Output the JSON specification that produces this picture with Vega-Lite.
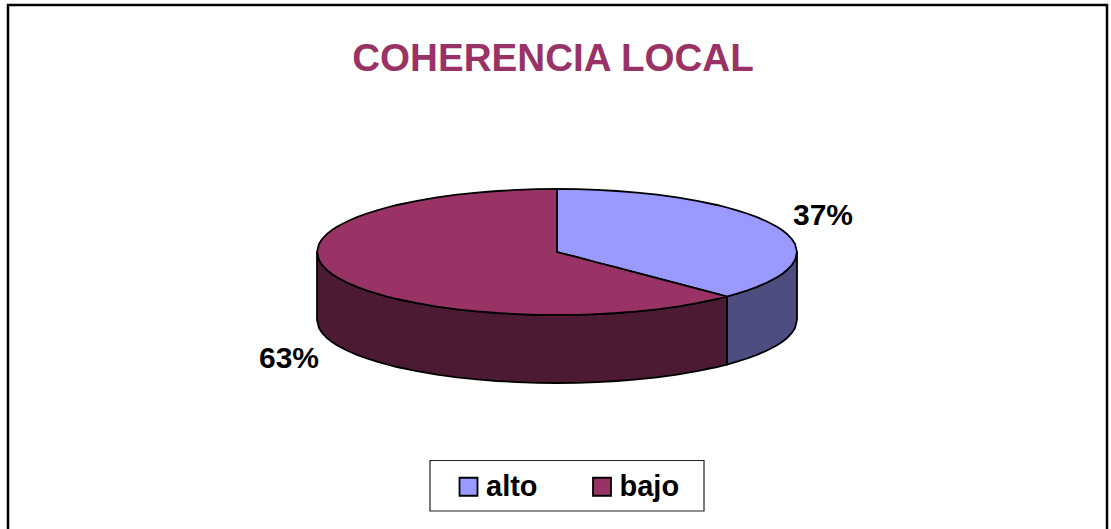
{"$schema":"https://vega.github.io/schema/vega-lite/v6.json","width":1111,"height":529,"autosize":{"type":"none"},"padding":0,"background":"white","config":{"view":{"stroke":null},"font":"Liberation Sans"},
"datasets":{
"frame":[{"o":1,"x":8,"y":529},{"o":2,"x":8,"y":5},{"o":3,"x":1107,"y":5},{"o":4,"x":1107,"y":529}],
"box":[{"x":430,"x2":704,"y":460.5,"y2":511}],
"labels":[{"t":"COHERENCIA LOCAL","x":553,"y":58.5,"k":"title"},{"t":"37%","x":823,"y":216,"k":"pct"},{"t":"63%","x":289,"y":359,"k":"pct"}],
"ladoBajo":[{"x":317,"y":252,"y2":320},{"x":319,"y":260.1,"y2":328.1},{"x":322,"y":264.8,"y2":332.8},{"x":327,"y":270,"y2":338},{"x":332,"y":273.9,"y2":341.9},{"x":337,"y":277.2,"y2":345.2},{"x":347,"y":282.5,"y2":350.5},{"x":357,"y":286.8,"y2":354.8},{"x":367,"y":290.5,"y2":358.5},{"x":377,"y":293.7,"y2":361.7},{"x":387,"y":296.5,"y2":364.5},{"x":397,"y":299,"y2":367},{"x":417,"y":303.2,"y2":371.2},{"x":437,"y":306.6,"y2":374.6},{"x":457,"y":309.3,"y2":377.3},{"x":477,"y":311.4,"y2":379.4},{"x":497,"y":313,"y2":381},{"x":517,"y":314.1,"y2":382.1},{"x":537,"y":314.8,"y2":382.8},{"x":557,"y":315,"y2":383},{"x":577,"y":314.8,"y2":382.8},{"x":597,"y":314.1,"y2":382.1},{"x":617,"y":313,"y2":381},{"x":637,"y":311.4,"y2":379.4},{"x":657,"y":309.3,"y2":377.3},{"x":677,"y":306.6,"y2":374.6},{"x":697,"y":303.2,"y2":371.2},{"x":717,"y":299,"y2":367},{"x":727,"y":296.5,"y2":364.5}],
"ladoAlto":[{"x":727,"y":296.5,"y2":364.5},{"x":737,"y":293.7,"y2":361.7},{"x":747,"y":290.5,"y2":358.5},{"x":757,"y":286.8,"y2":354.8},{"x":767,"y":282.5,"y2":350.5},{"x":777,"y":277.2,"y2":345.2},{"x":782,"y":273.9,"y2":341.9},{"x":787,"y":270,"y2":338},{"x":792,"y":264.8,"y2":332.8},{"x":795,"y":260.1,"y2":328.1},{"x":797,"y":252,"y2":320}],
"caras":[
{"serie":"alto","x":557,"y":189,"y2":252},{"serie":"alto","x":577,"y":189.2,"y2":257.2},{"serie":"alto","x":597,"y":189.9,"y2":262.5},{"serie":"alto","x":617,"y":191,"y2":267.7},{"serie":"alto","x":637,"y":192.6,"y2":272.9},{"serie":"alto","x":657,"y":194.7,"y2":278.2},{"serie":"alto","x":677,"y":197.4,"y2":283.4},{"serie":"alto","x":697,"y":200.8,"y2":288.6},{"serie":"alto","x":717,"y":205,"y2":293.9},{"serie":"alto","x":727,"y":207.5,"y2":296.5},{"serie":"alto","x":737,"y":210.3,"y2":293.7},{"serie":"alto","x":747,"y":213.5,"y2":290.5},{"serie":"alto","x":757,"y":217.2,"y2":286.8},{"serie":"alto","x":767,"y":221.5,"y2":282.5},{"serie":"alto","x":777,"y":226.8,"y2":277.2},{"serie":"alto","x":782,"y":230.1,"y2":273.9},{"serie":"alto","x":787,"y":234,"y2":270},{"serie":"alto","x":792,"y":239.2,"y2":264.8},{"serie":"alto","x":795,"y":243.9,"y2":260.1},{"serie":"alto","x":797,"y":252,"y2":252},
{"serie":"bajo","x":317,"y":252,"y2":252},{"serie":"bajo","x":319,"y":243.9,"y2":260.1},{"serie":"bajo","x":322,"y":239.2,"y2":264.8},{"serie":"bajo","x":327,"y":234,"y2":270},{"serie":"bajo","x":332,"y":230.1,"y2":273.9},{"serie":"bajo","x":337,"y":226.8,"y2":277.2},{"serie":"bajo","x":347,"y":221.5,"y2":282.5},{"serie":"bajo","x":357,"y":217.2,"y2":286.8},{"serie":"bajo","x":367,"y":213.5,"y2":290.5},{"serie":"bajo","x":377,"y":210.3,"y2":293.7},{"serie":"bajo","x":387,"y":207.5,"y2":296.5},{"serie":"bajo","x":397,"y":205,"y2":299},{"serie":"bajo","x":417,"y":200.8,"y2":303.2},{"serie":"bajo","x":437,"y":197.4,"y2":306.6},{"serie":"bajo","x":457,"y":194.7,"y2":309.3},{"serie":"bajo","x":477,"y":192.6,"y2":311.4},{"serie":"bajo","x":497,"y":191,"y2":313},{"serie":"bajo","x":517,"y":189.9,"y2":314.1},{"serie":"bajo","x":537,"y":189.2,"y2":314.8},{"serie":"bajo","x":557,"y":189,"y2":315},{"serie":"bajo","x":557,"y":252,"y2":315},{"serie":"bajo","x":577,"y":257.2,"y2":314.8},{"serie":"bajo","x":597,"y":262.5,"y2":314.1},{"serie":"bajo","x":617,"y":267.7,"y2":313},{"serie":"bajo","x":637,"y":272.9,"y2":311.4},{"serie":"bajo","x":657,"y":278.2,"y2":309.3},{"serie":"bajo","x":677,"y":283.4,"y2":306.6},{"serie":"bajo","x":697,"y":288.6,"y2":303.2},{"serie":"bajo","x":717,"y":293.9,"y2":299},{"serie":"bajo","x":727,"y":296.5,"y2":296.5}
]},
"layer":[
{"data":{"name":"frame"},"mark":{"type":"line","color":"#000000","strokeWidth":2.5,"clip":false},"encoding":{"order":{"field":"o","type":"quantitative"},"x":{"field":"x","type":"quantitative","axis":null,"scale":{"domain":[0,1111],"nice":false,"zero":false}},"y":{"field":"y","type":"quantitative","axis":null,"scale":{"domain":[529,0],"nice":false,"zero":false}}}},
{"data":{"name":"ladoBajo"},"mark":{"type":"area","fill":"#4D1A33","stroke":"#000000","strokeWidth":1.8},"encoding":{"x":{"field":"x","type":"quantitative","axis":null,"scale":{"domain":[0,1111],"nice":false,"zero":false}},"y":{"field":"y","type":"quantitative","axis":null,"scale":{"domain":[529,0],"nice":false,"zero":false}},"y2":{"field":"y2"}}},
{"data":{"name":"ladoAlto"},"mark":{"type":"area","fill":"#4D4D80","stroke":"#000000","strokeWidth":1.8},"encoding":{"x":{"field":"x","type":"quantitative","axis":null,"scale":{"domain":[0,1111],"nice":false,"zero":false}},"y":{"field":"y","type":"quantitative","axis":null,"scale":{"domain":[529,0],"nice":false,"zero":false}},"y2":{"field":"y2"}}},
{"data":{"name":"caras"},"mark":{"type":"area","stroke":"#000000","strokeWidth":1.8},"encoding":{"x":{"field":"x","type":"quantitative","axis":null,"scale":{"domain":[0,1111],"nice":false,"zero":false}},"y":{"field":"y","type":"quantitative","axis":null,"scale":{"domain":[529,0],"nice":false,"zero":false}},"y2":{"field":"y2"},"color":{"field":"serie","type":"nominal","scale":{"domain":["alto","bajo"],"range":["#9999FF","#993366"]},"legend":{"title":null,"orient":"none","legendX":454,"legendY":472,"direction":"horizontal","columns":2,"columnPadding":49.5,"padding":0,"symbolType":"square","symbolSize":324,"symbolStrokeColor":"#000000","symbolStrokeWidth":1.8,"symbolOpacity":1,"labelFont":"Liberation Sans","labelFontSize":29,"labelFontWeight":"bold","labelColor":"#000000","labelOffset":3,"labelLimit":200,"rowPadding":0}}}},
{"data":{"name":"box"},"mark":{"type":"rect","fill":null,"stroke":"#222222","strokeWidth":1.2},"encoding":{"x":{"field":"x","type":"quantitative","axis":null,"scale":{"domain":[0,1111],"nice":false,"zero":false}},"x2":{"field":"x2"},"y":{"field":"y","type":"quantitative","axis":null,"scale":{"domain":[529,0],"nice":false,"zero":false}},"y2":{"field":"y2"}}},
{"data":{"name":"labels"},"transform":[{"filter":"datum.k==='title'"}],"mark":{"type":"text","font":"Liberation Sans","fontWeight":"bold","fontSize":38.6,"color":"#993366","align":"center","baseline":"middle"},"encoding":{"text":{"field":"t"},"x":{"field":"x","type":"quantitative","axis":null,"scale":{"domain":[0,1111],"nice":false,"zero":false}},"y":{"field":"y","type":"quantitative","axis":null,"scale":{"domain":[529,0],"nice":false,"zero":false}}}},
{"data":{"name":"labels"},"transform":[{"filter":"datum.k==='pct'"}],"mark":{"type":"text","font":"Liberation Sans","fontWeight":"bold","fontSize":30,"color":"#000000","align":"center","baseline":"middle"},"encoding":{"text":{"field":"t"},"x":{"field":"x","type":"quantitative","axis":null,"scale":{"domain":[0,1111],"nice":false,"zero":false}},"y":{"field":"y","type":"quantitative","axis":null,"scale":{"domain":[529,0],"nice":false,"zero":false}}}}
]}
